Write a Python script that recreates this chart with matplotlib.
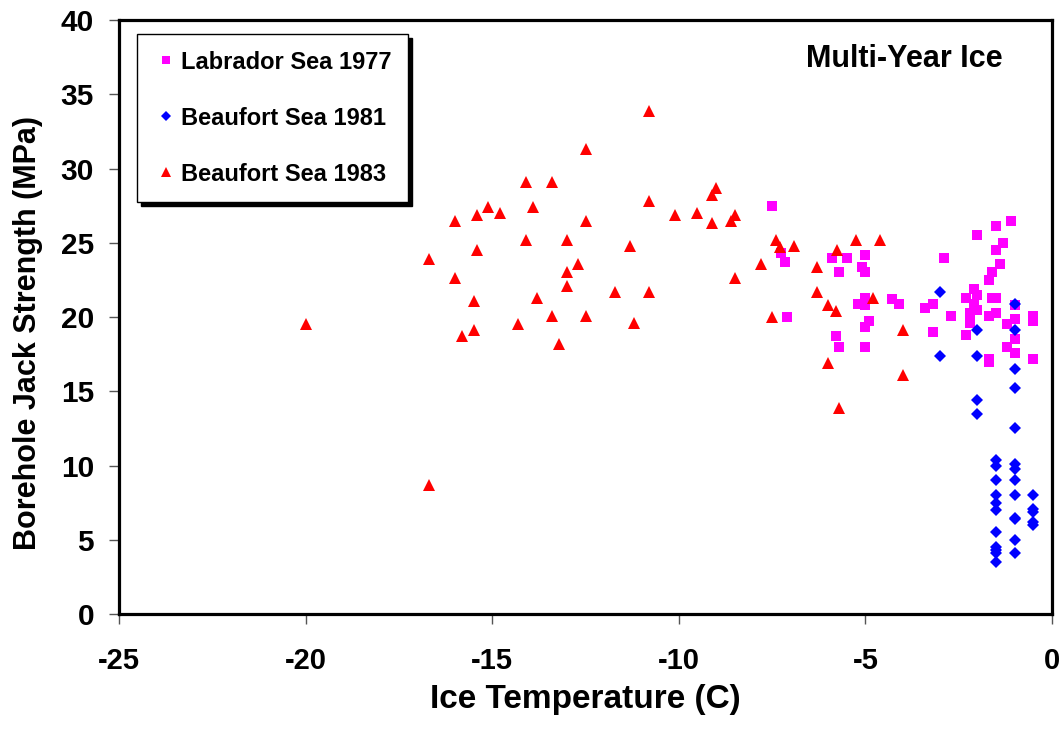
import matplotlib.pyplot as plt

plt.rcParams['font.family'] = ['Liberation Sans', 'DejaVu Sans']
plt.rcParams['font.weight'] = 'bold'
plt.rcParams['axes.unicode_minus'] = False

# Labrador Sea 1977
lab77_temp = [-7.5, -7.25, -7.15, -7.1, -5.9, -5.5, -5.0, -5.1, -5.0, -5.7,
              -5.0, -5.2, -5.0, -4.3, -4.1, -4.9, -5.0, -5.8, -5.7, -5.0,
              -1.1, -1.5, -2.0, -1.3, -1.5, -2.9, -1.4, -1.6, -1.7, -2.1,
              -2.0, -2.3, -1.6, -1.5, -3.2, -3.4, -2.1, -1.0, -2.0, -2.2,
              -1.5, -1.7, -2.7, -0.5, -1.0, -0.5, -2.2, -1.2, -3.2, -2.3,
              -1.0, -1.2, -1.0, -1.7, -1.7, -0.5]
lab77_str = [27.5, 24.3, 23.7, 20.0, 24.0, 24.0, 24.2, 23.4, 23.0, 23.0,
             21.3, 20.9, 20.8, 21.2, 20.9, 19.7, 19.3, 18.7, 18.0, 18.0,
             26.5, 26.1, 25.5, 25.0, 24.5, 24.0, 23.6, 23.0, 22.5, 21.9,
             21.5, 21.3, 21.3, 21.3, 20.9, 20.6, 20.9, 20.8, 20.5, 20.3,
             20.3, 20.1, 20.1, 20.1, 19.9, 19.7, 19.6, 19.5, 19.0, 18.8,
             18.5, 18.0, 17.6, 17.2, 17.0, 17.2]

# Beaufort Sea 1981
bf81_temp = [-3.0, -1.0, -2.0, -1.0, -3.0, -2.0, -1.0, -1.0, -2.0, -2.0,
             -1.0, -1.5, -1.5, -1.0, -1.0, -1.5, -1.0, -1.5, -1.5, -1.5,
             -1.0, -0.5, -0.5, -0.5, -1.0, -0.5, -0.5, -1.5, -1.0, -1.5,
             -1.5, -1.5, -1.0, -1.5, -1.0]
bf81_str = [21.7, 20.9, 19.1, 19.1, 17.4, 17.4, 16.5, 15.2, 14.4, 13.5,
            12.5, 10.4, 10.0, 10.1, 9.8, 9.0, 9.0, 8.0, 7.5, 7.0,
            8.0, 8.0, 7.1, 6.9, 6.5, 6.2, 6.0, 5.5, 5.0, 4.5,
            4.3, 4.1, 4.1, 3.5, 6.4]

# Beaufort Sea 1983
bf83_temp = [-20.0, -16.7, -16.7, -16.0, -16.0, -15.8, -15.5, -15.5, -15.4, -15.4,
             -15.1, -14.8, -14.3, -14.1, -14.1, -13.9, -13.8, -13.4, -13.4, -13.2,
             -13.0, -13.0, -13.0, -12.7, -12.5, -12.5, -12.5, -11.7, -11.3, -11.2,
             -10.8, -10.8, -10.8, -10.1, -9.5, -9.1, -9.1, -9.0, -8.6, -8.5,
             -8.5, -7.8, -7.5, -7.4, -7.3, -6.9, -6.3, -6.3, -6.0, -6.0,
             -5.8, -5.75, -5.7, -5.25, -4.8, -4.6, -4.0, -4.0]
bf83_str = [19.5, 23.9, 8.7, 26.5, 22.6, 18.7, 21.1, 19.1, 24.5, 26.9,
            27.4, 27.0, 19.5, 29.1, 25.2, 27.4, 21.3, 29.1, 20.1, 18.2,
            25.2, 23.0, 22.1, 23.6, 31.3, 26.5, 20.1, 21.7, 24.8, 19.6,
            33.9, 27.8, 21.7, 26.9, 27.0, 26.3, 28.2, 28.7, 26.5, 26.9,
            22.6, 23.6, 20.0, 25.2, 24.7, 24.8, 23.4, 21.7, 20.8, 16.9,
            20.4, 24.5, 13.9, 25.2, 21.3, 25.2, 19.1, 16.1]

fig = plt.figure(figsize=(10.61, 7.31), dpi=100)
ax = fig.add_axes([0.1122, 0.16, 0.8793, 0.8126])

ax.plot(lab77_temp, lab77_str, 's', color='#FF00FF', ms=7, mew=0,
        label='Labrador Sea 1977')
ax.plot(bf81_temp, bf81_str, 'D', color='#0000FF', ms=6.2, mew=0,
        label='Beaufort Sea 1981')
ax.plot(bf83_temp, bf83_str, '^', color='#FF0000', ms=8.5, mew=0,
        label='Beaufort Sea 1983')

ax.set_xlim(-25, 0)
ax.set_ylim(0, 40)
ax.set_xticks(range(-25, 1, 5))
ax.set_yticks(range(0, 41, 5))

for s in ax.spines.values():
    s.set_linewidth(2.3)
    s.set_color('black')

ax.tick_params(axis='x', length=7, width=1, color='#555555', pad=17,
               labelsize=21)
ax.tick_params(axis='y', length=7, width=1, color='#555555', pad=11,
               labelsize=21.5)

ax.set_xlabel('Ice Temperature (C)', fontsize=24, fontweight='bold',
              labelpad=6)
ax.set_ylabel('Borehole Jack Strength (MPa)', fontsize=22, fontweight='bold')
ax.yaxis.set_label_coords(-0.081, 0.473)

ax.text(0.9466, 0.934, 'Multi-Year Ice', transform=ax.transAxes,
        ha='right', va='center', fontsize=22, fontweight='bold')

leg = ax.legend(loc='upper left', bbox_to_anchor=(0.019, 0.9764),
                borderaxespad=0, fontsize=17, labelspacing=1.4,
                borderpad=0.7, handlelength=1.06, handletextpad=0.1,
                markerscale=0.8, fancybox=False, framealpha=1,
                edgecolor='black',
                shadow={'color': 'black', 'alpha': 1, 'ox': 3, 'oy': -3})
leg.get_frame().set_linewidth(1.0)

fig.savefig('out.png', dpi=100, facecolor='white')
